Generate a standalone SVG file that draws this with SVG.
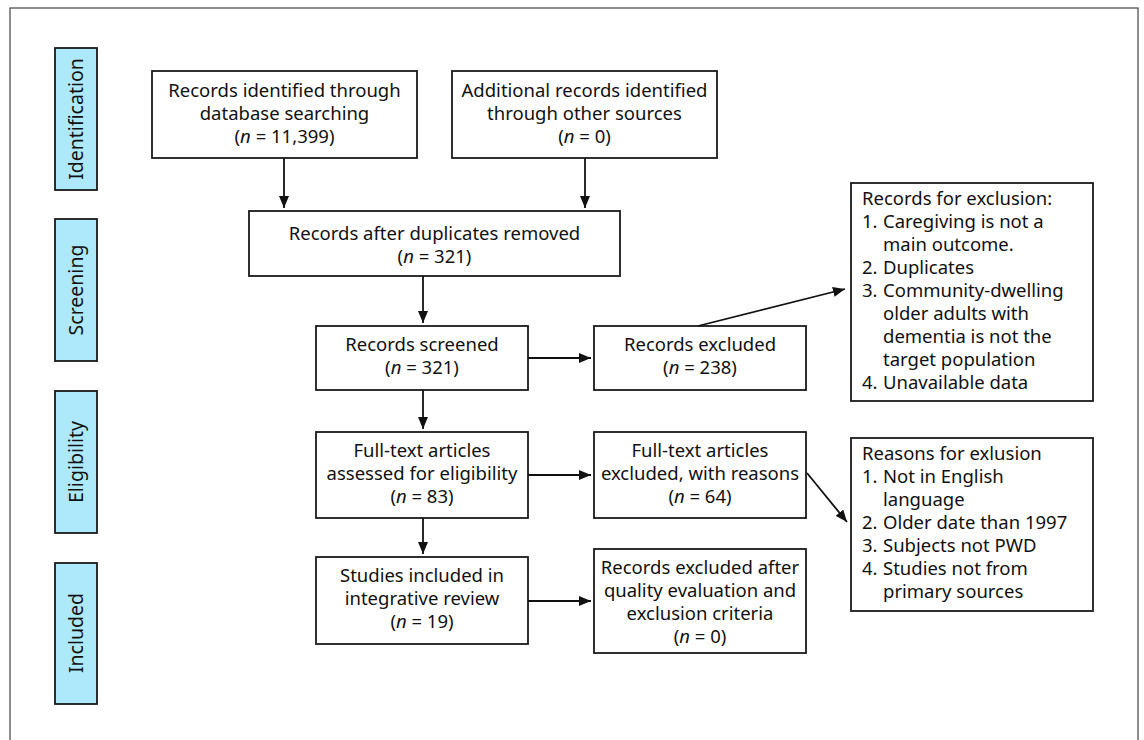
<svg xmlns="http://www.w3.org/2000/svg" width="1144" height="740" viewBox="0 0 1144 740">
<style>
.box{fill:#fff;stroke:#1a1a1a;stroke-width:1.8}
.lab{fill:#aee9fb;stroke:#1a1a1a;stroke-width:1.8}
text{font-family:"Noto Sans","Open Sans",sans-serif;font-size:18.5px;fill:#111}
.s{font-size:19.5px}
.c{text-anchor:middle}
.e{stroke:#111;stroke-width:1.8;fill:none;marker-end:url(#ah)}
</style>
<defs>
<marker id="ah" viewBox="0 0 12 10" refX="12" refY="5" markerWidth="12" markerHeight="10" markerUnits="userSpaceOnUse" orient="auto">
<path d="M0,0 L12,5 L0,10 z" fill="#111"/>
</marker>
</defs>
<rect x="10" y="8" width="1128" height="740" fill="#fff" stroke="#444" stroke-width="1.2"/>
<g id="stage-identification"><rect class="lab" x="55" y="48" width="42" height="142"/><text class="c s" transform="translate(83,119) rotate(-90)">Identification</text></g>
<g id="stage-screening"><rect class="lab" x="55" y="219" width="42" height="142"/><text class="c s" transform="translate(83,290) rotate(-90)">Screening</text></g>
<g id="stage-eligibility"><rect class="lab" x="55" y="391" width="42" height="142"/><text class="c s" transform="translate(83,462) rotate(-90)">Eligibility</text></g>
<g id="stage-included"><rect class="lab" x="55" y="563" width="42" height="141"/><text class="c s" transform="translate(83,633) rotate(-90)">Included</text></g>

<g id="n-database"><rect class="box" x="152" y="71" width="265" height="87"/>
<text class="c" x="284.5" y="97">Records identified through</text>
<text class="c" x="284.5" y="120">database searching</text>
<text class="c" x="284.5" y="143">(<tspan font-style="italic">n</tspan> = 11,399)</text></g>
<g id="n-other"><rect class="box" x="452" y="71" width="265" height="87"/>
<text class="c" x="584.5" y="97">Additional records identified</text>
<text class="c" x="584.5" y="120">through other sources</text>
<text class="c" x="584.5" y="143">(<tspan font-style="italic">n</tspan> = 0)</text></g>
<g id="n-dupes"><rect class="box" x="249" y="211" width="371" height="65"/>
<text class="c" x="434.5" y="240">Records after duplicates removed</text>
<text class="c" x="434.5" y="263">(<tspan font-style="italic">n</tspan> = 321)</text></g>
<g id="n-screened"><rect class="box" x="316" y="326" width="212" height="64"/>
<text class="c" x="422" y="351">Records screened</text>
<text class="c" x="422" y="374">(<tspan font-style="italic">n</tspan> = 321)</text></g>
<g id="n-excluded"><rect class="box" x="594" y="326" width="212" height="64"/>
<text class="c" x="700" y="351">Records excluded</text>
<text class="c" x="700" y="374">(<tspan font-style="italic">n</tspan> = 238)</text></g>
<g id="n-exclusion-list"><rect class="box" x="851" y="183" width="242" height="218"/>
<text x="862" y="205">Records for exclusion:</text>
<text x="862" y="228">1.</text><text x="883" y="228">Caregiving is not a</text>
<text x="883" y="251">main outcome.</text>
<text x="862" y="274">2.</text><text x="883" y="274">Duplicates</text>
<text x="862" y="297">3.</text><text x="883" y="297">Community-dwelling</text>
<text x="883" y="320">older adults with</text>
<text x="883" y="343">dementia is not the</text>
<text x="883" y="366">target population</text>
<text x="862" y="389">4.</text><text x="883" y="389">Unavailable data</text></g>
<g id="n-fulltext"><rect class="box" x="316" y="432" width="212" height="86"/>
<text class="c" x="422" y="457">Full-text articles</text>
<text class="c" x="422" y="480">assessed for eligibility</text>
<text class="c" x="422" y="503">(<tspan font-style="italic">n</tspan> = 83)</text></g>
<g id="n-fulltext-excluded"><rect class="box" x="594" y="432" width="212" height="86"/>
<text class="c" x="700" y="457">Full-text articles</text>
<text class="c" x="700" y="480">excluded, with reasons</text>
<text class="c" x="700" y="503">(<tspan font-style="italic">n</tspan> = 64)</text></g>
<g id="n-reasons"><rect class="box" x="851" y="438" width="242" height="173"/>
<text x="862" y="460">Reasons for exlusion</text>
<text x="862" y="483">1.</text><text x="883" y="483">Not in English</text>
<text x="883" y="506">language</text>
<text x="862" y="529">2.</text><text x="883" y="529">Older date than 1997</text>
<text x="862" y="552">3.</text><text x="883" y="552">Subjects not PWD</text>
<text x="862" y="575">4.</text><text x="883" y="575">Studies not from</text>
<text x="883" y="598">primary sources</text></g>
<g id="n-included"><rect class="box" x="316" y="557" width="212" height="87"/>
<text class="c" x="422" y="582">Studies included in</text>
<text class="c" x="422" y="605">integrative review</text>
<text class="c" x="422" y="628">(<tspan font-style="italic">n</tspan> = 19)</text></g>
<g id="n-quality"><rect class="box" x="594" y="549" width="212" height="104"/>
<text class="c" x="700" y="574">Records excluded after</text>
<text class="c" x="700" y="597">quality evaluation and</text>
<text class="c" x="700" y="620">exclusion criteria</text>
<text class="c" x="700" y="643">(<tspan font-style="italic">n</tspan> = 0)</text></g>

<g id="connectors">
<line class="e" x1="284" y1="158" x2="284" y2="208"/>
<line class="e" x1="585" y1="158" x2="585" y2="208"/>
<line class="e" x1="423" y1="276" x2="423" y2="323"/>
<line class="e" x1="528" y1="358" x2="591" y2="358"/>
<line class="e" x1="698" y1="326" x2="845" y2="289"/>
<line class="e" x1="423" y1="390" x2="423" y2="429"/>
<line class="e" x1="528" y1="475" x2="591" y2="475"/>
<line class="e" x1="807" y1="473" x2="847" y2="522"/>
<line class="e" x1="423" y1="518" x2="423" y2="554"/>
<line class="e" x1="528" y1="601" x2="591" y2="601"/>
</g>
</svg>
